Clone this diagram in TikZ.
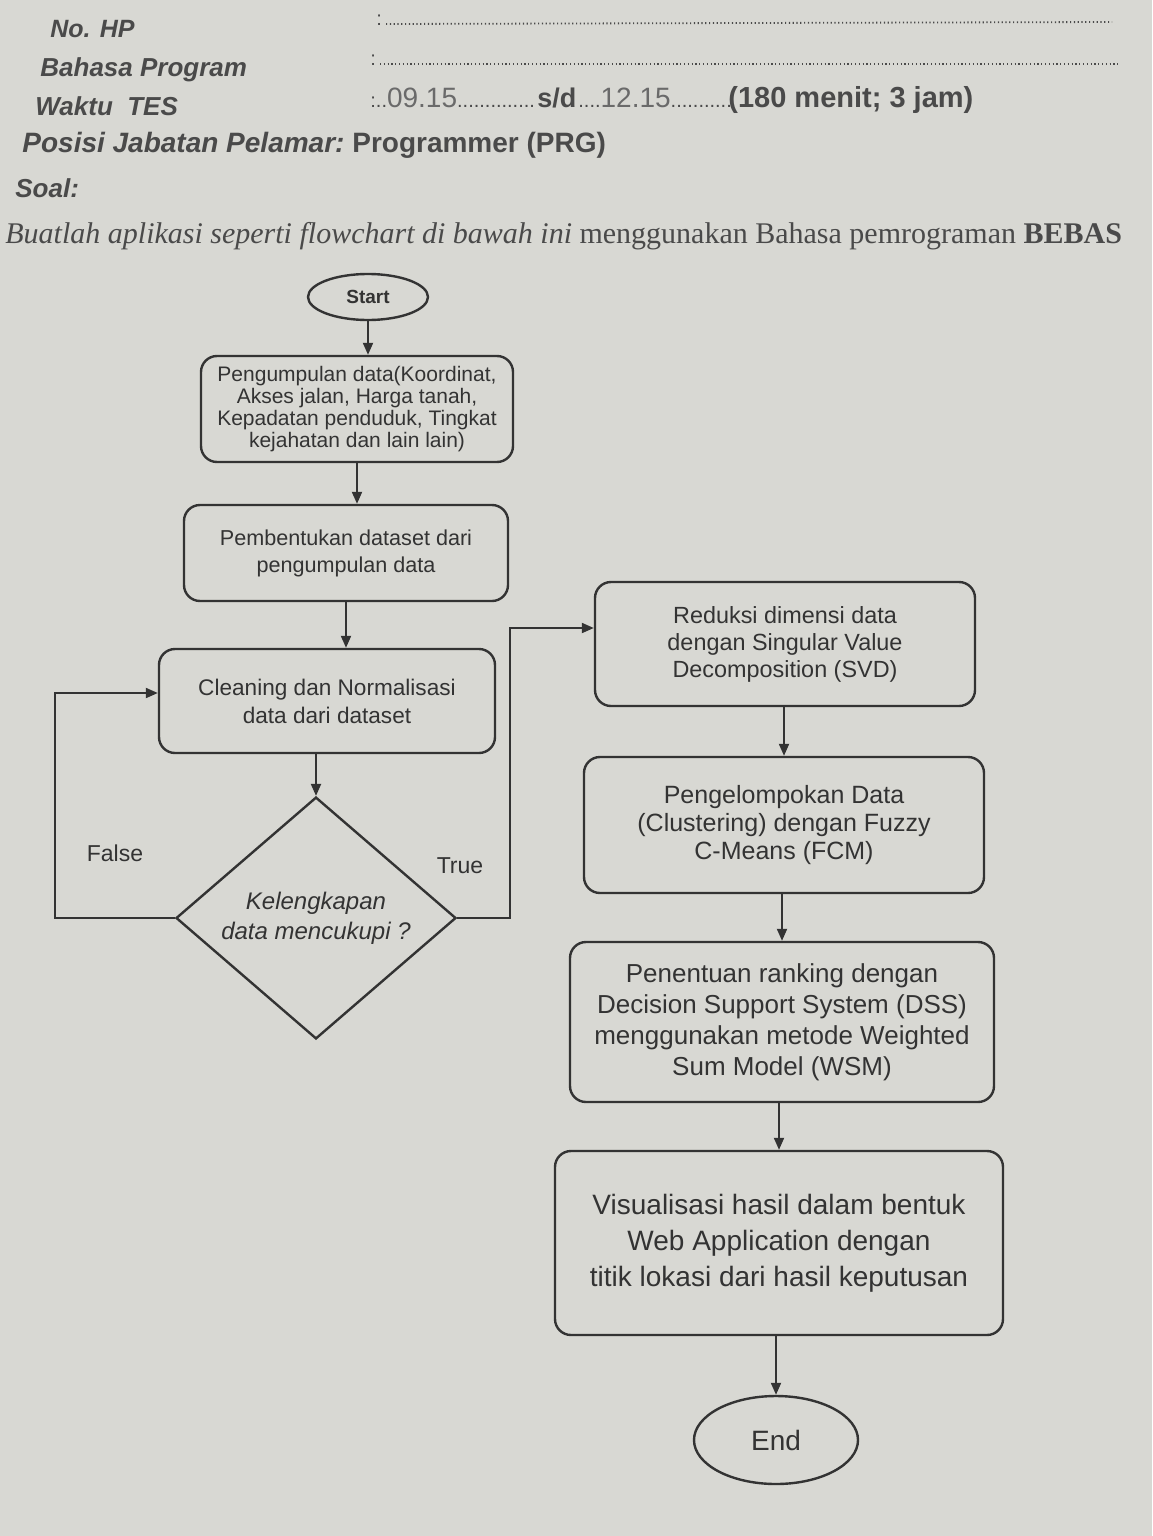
\documentclass[tikz,border=0pt]{standalone}
\usepackage{fontspec}
\setmainfont{Liberation Sans}
\newfontfamily\serifface{Liberation Serif}
\usetikzlibrary{shapes.geometric,arrows.meta,calc}
\definecolor{paper}{HTML}{D8D8D3}
\definecolor{ink}{HTML}{333333}
\definecolor{hdr}{HTML}{4A4A4A}
\definecolor{hw}{HTML}{6A6A6A}
\begin{document}
\begin{tikzpicture}[x=0.5pt,y=-0.5pt,
  box/.style={draw=ink,line width=1.2pt,rounded corners=8pt,align=center,text=ink,inner sep=2pt},
  term/.style={draw=ink,line width=1.2pt,ellipse,text=ink,inner sep=0pt},
  dec/.style={draw=ink,line width=1.2pt,diamond,text=ink,align=center,inner sep=0pt},
  flow/.style={draw=ink,line width=1pt,-{Triangle[length=6pt,width=5pt]}},
  lab/.style={text=ink,font=\fontsize{11.5}{13}\selectfont,inner sep=0pt},
  hd/.style={anchor=base west,text=hdr,inner sep=0pt},
  dotline/.style={draw=hdr,line width=0.9pt,dash pattern=on 0.6pt off 1.3pt}
]
\fill[paper] (0,0) rectangle (1152,1536);
\useasboundingbox (0,0) rectangle (1152,1536);

% ---------- header ----------
\node[hd,font=\bfseries\itshape\fontsize{12.5}{15}\selectfont] (nohp) at (50,38) {No. HP};
\node[hd,font=\bfseries\itshape\fontsize{13}{15}\selectfont] (bahasa) at (40,76) {Bahasa Program};
\node[hd,font=\bfseries\itshape\fontsize{13}{15}\selectfont] (waktu) at (35,116) {Waktu\ \ TES};

\node[hd,font=\fontsize{10}{12}\selectfont] (colA) at (376,26) {:};
\coordinate (dAs) at (386,24);
\coordinate (dAe) at (1112,22);
\draw[dotline] (dAs) -- (dAe);
\node[hd,font=\fontsize{10}{12}\selectfont] (colB) at (370,66) {:};
\coordinate (dBs) at (380,64);
\coordinate (dBe) at (1118,64);
\draw[dotline] (dBs) -- (dBe);

\node[hd,font=\fontsize{10}{12}\selectfont] (wA) at (370,108) {:..\textcolor{hw}{\fontsize{14}{16}\selectfont 09.15}..............};
\node[hd,font=\bfseries\fontsize{13.5}{16}\selectfont] (wB) at (537,108) {s/d};
\node[hd,font=\fontsize{10}{12}\selectfont] (wC) at (578,108) {....\textcolor{hw}{\fontsize{14}{16}\selectfont 12.15}...........};
\node[hd,font=\bfseries\fontsize{14.5}{16}\selectfont] (wD) at (728,108) {(180 menit; 3 jam)};

\node[hd,font=\bfseries\fontsize{14}{16}\selectfont] (posisi) at (22,153) {\itshape Posisi Jabatan Pelamar:\upshape\ Programmer (PRG)};
\node[hd,font=\bfseries\itshape\fontsize{13}{15}\selectfont] (soal) at (15,198) {Soal:};
\node[hd,font=\serifface\fontsize{15}{17}\selectfont] (task) at (5,243) {\itshape Buatlah aplikasi seperti flowchart di bawah ini \upshape menggunakan Bahasa pemrograman \bfseries BEBAS};

% ---------- flowchart: left column ----------
\node[term,minimum width=60pt,minimum height=23pt,font=\bfseries\fontsize{9.5}{11}\selectfont] (start) at (368,297) {Start};
\node[box,minimum width=156pt,minimum height=53pt,font=\fontsize{10.5}{11}\selectfont] (b1) at (357,409)
  {Pengumpulan data(Koordinat,\\Akses jalan, Harga tanah,\\Kepadatan penduduk, Tingkat\\kejahatan dan lain lain)};
\node[box,minimum width=162pt,minimum height=48pt,font=\fontsize{10.8}{13.5}\selectfont] (b2) at (346,553)
  {Pembentukan dataset dari\\pengumpulan data};
\node[box,minimum width=168pt,minimum height=52pt,font=\fontsize{11.3}{14}\selectfont] (b3) at (327,701)
  {Cleaning dan Normalisasi\\data dari dataset};
\node[dec,minimum width=140pt,minimum height=98pt,font=\itshape\fontsize{12}{15}\selectfont] (dia) at (316,918)
  {Kelengkapan\\data mencukupi ?};

% ---------- flowchart: right column ----------
\node[box,minimum width=190pt,minimum height=62pt,font=\fontsize{11.7}{13.5}\selectfont] (b4) at (785,644)
  {Reduksi dimensi data\\dengan Singular Value\\Decomposition (SVD)};
\node[box,minimum width=200pt,minimum height=68pt,font=\fontsize{12.5}{14}\selectfont] (b5) at (784,825)
  {Pengelompokan Data\\(Clustering) dengan Fuzzy\\C-Means (FCM)};
\node[box,minimum width=212pt,minimum height=80pt,font=\fontsize{13}{15.5}\selectfont] (b6) at (782,1022)
  {Penentuan ranking dengan\\Decision Support System (DSS)\\menggunakan metode Weighted\\Sum Model (WSM)};
\node[box,minimum width=224pt,minimum height=92pt,font=\fontsize{14}{18}\selectfont] (b7) at (779,1243)
  {Visualisasi hasil dalam bentuk\\Web Application dengan\\titik lokasi dari hasil keputusan};
\node[term,minimum width=82pt,minimum height=44pt,font=\fontsize{14}{16}\selectfont] (endn) at (776,1440) {End};

% ---------- connectors ----------
\draw[flow] (start.south) -- (start.south |- b1.north);
\draw[flow] (b1.south) -- (b1.south |- b2.north);
\draw[flow] (b2.south) -- (b2.south |- b3.north);
\draw[flow] (b3.south -| dia.north) -- (dia.north);
\coordinate (fl) at (55,918);
\coordinate (tr) at (510,918);
\draw[flow] (dia.west) -- (fl) |- ($(b3.west)+(0,-8)$);
\draw[flow] (dia.east) -- (tr) |- ($(b4.west)+(0,-16)$);
\draw[flow] (b4.south -| b5.north) -- (b5.north);
\draw[flow] (b5.south -| b6.north) -- (b6.north);
\draw[flow] (b6.south -| b7.north) -- (b7.north);
\draw[flow] (b7.south -| endn.north) -- (endn.north);

\node[lab] (lfalse) at (115,853) {False};
\node[lab] (ltrue) at (460,866) {True};
\end{tikzpicture}
\end{document}
